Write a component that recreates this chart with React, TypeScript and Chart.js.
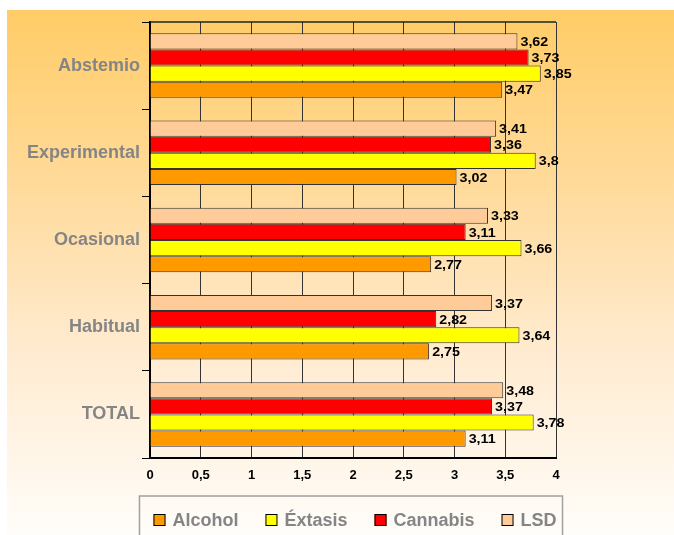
import React, { useEffect, useRef } from "react";
import { Chart, registerables } from "chart.js";

Chart.register(...registerables);

const categories = ["Abstemio", "Experimental", "Ocasional", "Habitual", "TOTAL"];
const alcohol = [3.47, 3.02, 2.77, 2.75, 3.11];
const extasis = [3.85, 3.8, 3.66, 3.64, 3.78];
const cannabis = [3.73, 3.36, 3.11, 2.82, 3.37];
const lsd = [3.62, 3.41, 3.33, 3.37, 3.48];
const xTicks = [0, 0.5, 1, 1.5, 2, 2.5, 3, 3.5, 4];

const FONT = "'Liberation Sans', Arial, Helvetica, sans-serif";
const fmt = (v: number) => String(v).replace(".", ",");

const framePlugin = {
  id: "frame",
  afterDatasetsDraw(chart: any) {
    const ctx = chart.ctx;
    const { left, right, top } = chart.chartArea;
    ctx.save();
    ctx.strokeStyle = "#222";
    ctx.lineWidth = 1.5;
    ctx.beginPath();
    ctx.moveTo(left, top);
    ctx.lineTo(right, top);
    ctx.stroke();
    // data labels
    ctx.font = `bold 13px ${FONT}`;
    ctx.fillStyle = "#000";
    ctx.textBaseline = "middle";
    ctx.textAlign = "left";
    chart.data.datasets.forEach((ds: any, di: number) => {
      const meta = chart.getDatasetMeta(di);
      meta.data.forEach((bar: any, i: number) => {
        ctx.save();
        ctx.translate(bar.x + 3, bar.y + 1);
        ctx.scale(1.1, 1);
        ctx.fillText(fmt(ds.data[i]), 0, 0);
        ctx.restore();
      });
    });
    ctx.restore();
  },
  afterDraw(chart: any) {
    const ctx = chart.ctx;
    const { left, right } = chart.chartArea;
    const items = [...chart.data.datasets].reverse();
    ctx.save();
    ctx.font = `bold 18px ${FONT}`;
    const box = 12;
    const gapText = 7;
    const gapItem = 27;
    const widths = items.map((d: any) => box + gapText + ctx.measureText(d.label).width);
    const total = widths.reduce((a: number, b: number) => a + b, 0) + gapItem * (items.length - 1);
    const cy = 520;
    let x = (left + right) / 2 + 2 - total / 2;
    const startX = x;
    ctx.strokeStyle = "#a0a0a0";
    ctx.lineWidth = 1.5;
    ctx.strokeRect(startX - 14, cy - 24, total + 20, 60);
    items.forEach((d: any, i: number) => {
      ctx.fillStyle = d.backgroundColor;
      ctx.fillRect(x, cy - box / 2, box, box);
      ctx.strokeStyle = "#000";
      ctx.lineWidth = 1;
      ctx.strokeRect(x + 0.5, cy - box / 2 + 0.5, box - 1, box - 1);
      ctx.fillStyle = "#858585";
      ctx.textBaseline = "middle";
      ctx.textAlign = "left";
      ctx.fillText(d.label, x + box + gapText, cy + 1);
      x += widths[i] + gapItem;
    });
    ctx.restore();
  },
};

export default function App() {
  const ref = useRef<HTMLCanvasElement | null>(null);

  useEffect(() => {
    if (!ref.current) return;
    const ds = (label: string, data: number[], color: string) => ({
      label,
      data,
      backgroundColor: color,
      borderColor: "#333",
      borderWidth: 1,
      categoryPercentage: 0.74,
      barPercentage: 1.0,
    });
    const chart = new Chart(ref.current, {
      type: "bar",
      data: {
        labels: categories,
        datasets: [
          ds("LSD", lsd, "#FFCC99"),
          ds("Cannabis", cannabis, "#FF0000"),
          ds("Éxtasis", extasis, "#FFFF00"),
          ds("Alcohol", alcohol, "#FF9900"),
        ],
      },
      options: {
        indexAxis: "y",
        animation: false,
        responsive: false,
        devicePixelRatio: 1,
        layout: { padding: { top: 22, right: 118, left: 0, bottom: 47 } },
        plugins: {
          legend: { display: false },
          tooltip: { enabled: false },
        },
        scales: {
          y: {
            type: "category",
            grid: {
              drawOnChartArea: false,
              drawTicks: true,
              tickLength: 8,
              color: "#000",
              offset: true,
            },
            border: { color: "#000", width: 2 },
            ticks: {
              font: { family: FONT, size: 18, weight: "bold" },
              color: "#858585",
              padding: 2,
            },
            afterFit: (s: any) => {
              s.width = 150;
            },
          },
          x: {
            min: 0,
            max: 4,
            afterBuildTicks: (s: any) => {
              s.ticks = xTicks.map((v) => ({ value: v }));
            },
            grid: { color: "#333", lineWidth: 1, drawTicks: false },
            border: { color: "#000", width: 2 },
            ticks: {
              font: { family: FONT, size: 13, weight: "bold" },
              color: "#000",
              padding: 10,
              callback: (v: any) => fmt(Number(v)),
            },
            afterFit: (s: any) => {
              s.height = 30;
            },
          },
        },
      } as any,
      plugins: [framePlugin],
    });
    return () => chart.destroy();
  }, []);

  return (
    <div style={{ position: "absolute", left: 0, top: 0, width: 674, height: 535, background: "#fff", overflow: "hidden" }}>
      <div
        style={{
          position: "absolute",
          left: 7,
          top: 10,
          right: 0,
          bottom: 0,
          background: "linear-gradient(to bottom, #FFCC66 0%, #FFD995 30%, #FFEBD0 65%, #FFFDFA 100%)",
        }}
      />
      <canvas ref={ref} width={674} height={535} style={{ position: "absolute", left: 0, top: 0 }} />
    </div>
  );
}
